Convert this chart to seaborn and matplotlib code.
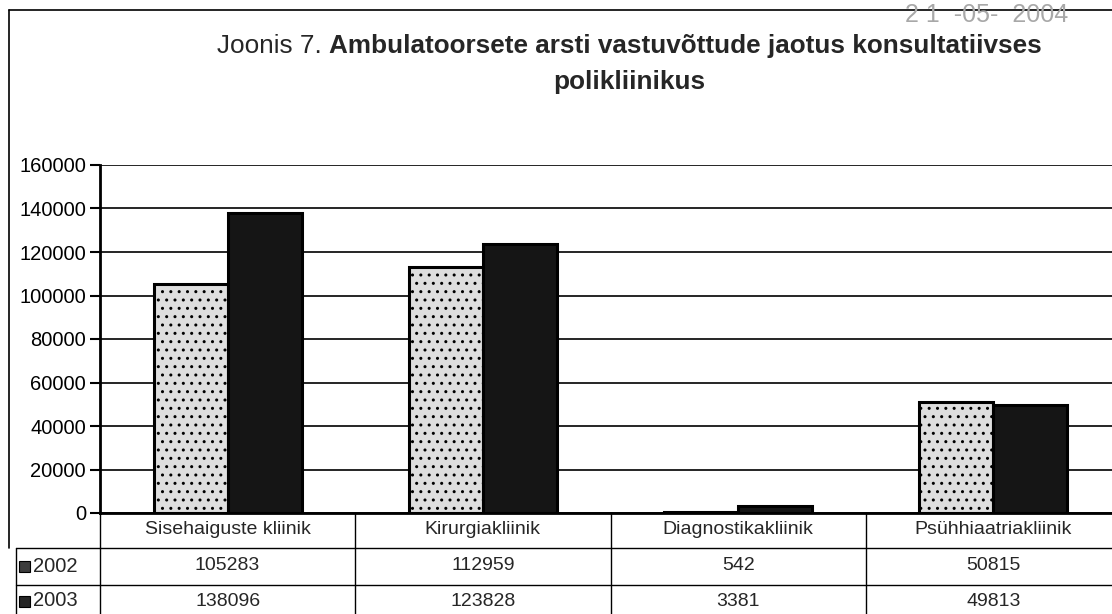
import matplotlib
matplotlib.use("Agg")
import matplotlib.pyplot as plt
import matplotlib.transforms as mtransforms
from matplotlib.lines import Line2D
from matplotlib.patches import Rectangle
import seaborn as sns
import pandas as pd

# ---------------- data ----------------
categories = ["Sisehaiguste kliinik", "Kirurgiakliinik", "Diagnostikakliinik", "Psühhiaatriakliinik"]
years = ["2002", "2003"]
values_2002 = [105283, 112959, 542, 50815]
values_2003 = [138096, 123828, 3381, 49813]
y_ticks = [0, 20000, 40000, 60000, 80000, 100000, 120000, 140000, 160000]
title_prefix = "Joonis 7. "
title_bold_1 = "Ambulatoorsete arsti vastuvõttude jaotus konsultatiivses"
title_bold_2 = "polikliinikus"
stamp_text = "2 1  -05-  2004"

df = pd.DataFrame({
    "Kliinik": categories * 2,
    "Aasta": [years[0]] * len(categories) + [years[1]] * len(categories),
    "Vastuvõtud": values_2002 + values_2003,
})

sns.set_theme(style="white")
plt.rcParams["font.family"] = ["Liberation Sans", "DejaVu Sans"]

W, H = 1112, 614
fig = plt.figure(figsize=(W / 100, H / 100), dpi=100)
fig.patch.set_facecolor("white")

def fx(px):
    return px / W

def fy(py):
    return 1 - py / H

ax_left, ax_right, ax_top, ax_bot = 100, 1121, 165, 513
ax = fig.add_axes([fx(ax_left), fy(ax_bot), fx(ax_right - ax_left), (ax_bot - ax_top) / H])
ax.set_facecolor("white")

colors = {"2002": "#dedede", "2003": "#151515"}
sns.barplot(data=df, x="Kliinik", y="Vastuvõtud", hue="Aasta", order=categories,
            hue_order=years, palette=colors, width=0.58, saturation=1,
            edgecolor="black", linewidth=2.2, ax=ax, legend=False, zorder=3)

# speckle-like texture on 2002 bars
for bar in ax.patches[:len(categories)]:
    bar.set_hatch("..")

ax.set_ylim(0, 160000)
ax.set_xlim(-0.5, len(categories) - 0.5)
ax.set_yticks(y_ticks)
ax.set_yticklabels([str(v) for v in y_ticks], fontsize=14.5, color="black")
ax.set_xticks([])
ax.set_xlabel("")
ax.set_ylabel("")
ax.yaxis.grid(True, color="black", linewidth=1.2)
ax.set_axisbelow(True)
for s in ["top", "right"]:
    ax.spines[s].set_visible(False)
ax.spines["left"].set_color("black")
ax.spines["left"].set_linewidth(2)
ax.spines["bottom"].set_color("black")
ax.spines["bottom"].set_linewidth(2)
ax.tick_params(axis="y", direction="out", length=7, width=1.5, color="black", pad=3, left=True)

# ---------------- data table ----------------
blend = mtransforms.blended_transform_factory(ax.transData, fig.transFigure)
row_header_y, row1_y, row2_y = 530, 566, 601
line_kw = dict(color="black", linewidth=1.0, transform=fig.transFigure)

for i in range(len(categories)):
    xb = ax.transData.transform((i - 0.5, 0))[0] / W
    fig.add_artist(Line2D([xb, xb], [fy(513), fy(614)], **line_kw))
for yy in (548, 585):
    fig.add_artist(Line2D([fx(16), 1.0], [fy(yy), fy(yy)], **line_kw))
fig.add_artist(Line2D([fx(16), fx(16)], [fy(548), fy(614)], **line_kw))

tfs = 14
for i, cat in enumerate(categories):
    fig.text(i, fy(row_header_y), cat, transform=blend, ha="center", va="center", fontsize=tfs)
    fig.text(i, fy(row1_y), str(values_2002[i]), transform=blend, ha="center", va="center", fontsize=tfs)
    fig.text(i, fy(row2_y), str(values_2003[i]), transform=blend, ha="center", va="center", fontsize=tfs)

key_colors = ["#3c3c3c", "#262626"]
for yr, yc, kc in zip(years, (row1_y, row2_y), key_colors):
    fig.add_artist(Rectangle((fx(19), fy(yc + 6)), fx(11), 11 / H, facecolor=kc,
                             edgecolor="black", linewidth=0.8, transform=fig.transFigure))
    fig.text(fx(33), fy(yc), yr, ha="left", va="center", fontsize=14.5)

# ---------------- title ----------------
renderer = fig.canvas.get_renderer()
tsize = 18.8
t1 = fig.text(0, fy(46), title_prefix, fontsize=tsize, ha="left", va="center")
t2 = fig.text(0, fy(46), title_bold_1, fontsize=tsize, fontweight="bold", ha="left", va="center")
w1 = t1.get_window_extent(renderer).width
w2 = t2.get_window_extent(renderer).width
cx = 629
start = cx - (w1 + w2) / 2
t1.set_x(fx(start))
t2.set_x(fx(start + w1))
fig.text(fx(cx), fy(82), title_bold_2, fontsize=tsize, fontweight="bold", ha="center", va="center")

# date stamp
fig.text(fx(987), fy(15), stamp_text, fontsize=18, color="#a8a8a8", ha="center", va="center")

# outer frame
fig.add_artist(Line2D([fx(9), fx(9)], [fy(10), fy(548)], color="black", linewidth=1.2,
                      transform=fig.transFigure))
fig.add_artist(Line2D([fx(9), 1.0], [fy(10), fy(10)], color="black", linewidth=1.2,
                      transform=fig.transFigure))

fig.savefig("out.png", dpi=100, facecolor="white")
